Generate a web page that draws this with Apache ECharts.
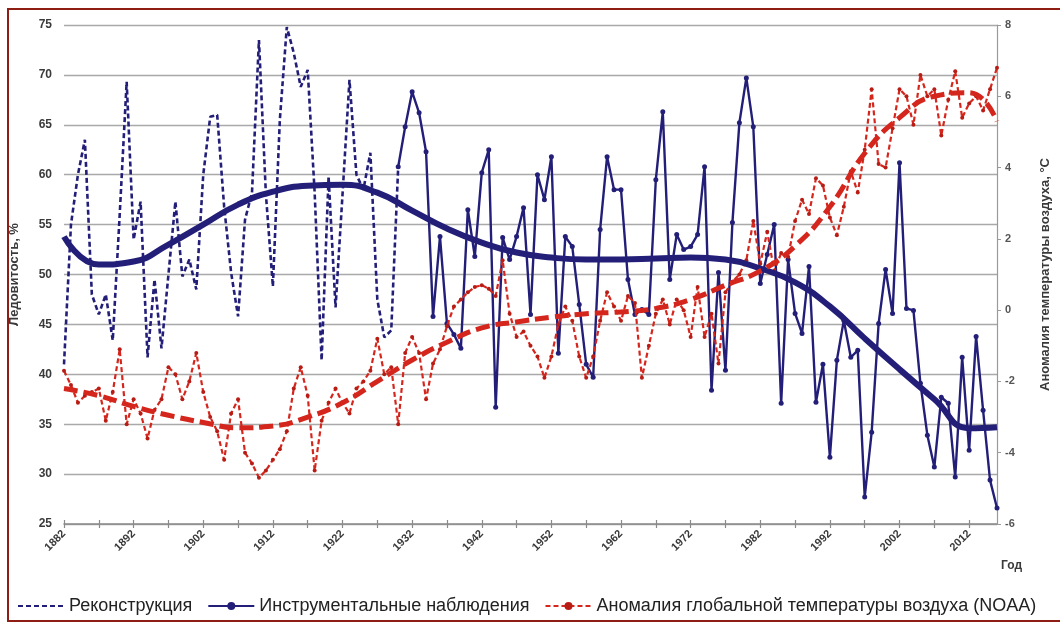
<!DOCTYPE html>
<html>
<head>
<meta charset="utf-8">
<script src="https://cdn.jsdelivr.net/npm/echarts@6/dist/echarts.min.js"></script>
<style>
  html, body { margin: 0; padding: 0; background: #ffffff; }
  #chart { width: 1060px; height: 622px; }
</style>
</head>
<body>
<div id="chart"></div>
<script>
// Years on the category axis
const firstYear = 1882;
const lastYear = 2016;
const years = [];
for (let y = firstYear; y <= lastYear; y++) years.push(String(y));

// Sea-ice extent, %, reconstructed (1882–1930)
const reconstructionStart = 1882;
const reconstruction = [
  41, 55, 60, 63.5, 48, 46, 48, 43.4, 56, 69.3,
  53.5, 57.3, 41.7, 49.5, 42.6, 50, 57.3, 49.8, 51.5, 48.5,
  60, 65.8, 66, 56.8, 50.2, 45.8, 55.5, 58.2, 73.5, 58,
  48.8, 65.5, 74.8, 72.2, 68.8, 70.5, 58.2, 41.4, 59.8, 46.7,
  58, 69.5, 60, 58.5, 62.2, 47.5, 43.7, 44.4, 60.8
];

// Sea-ice extent, %, instrumental observations (1930–2016)
const instrumentalStart = 1930;
const instrumental = [
  60.8, 64.8, 68.3, 66.2, 62.3, 45.8, 53.8, 45.1, 44, 42.6,
  56.5, 51.8, 60.2, 62.5, 36.7, 53.7, 51.5, 53.8, 56.7, 46,
  60, 57.5, 61.8, 42.1, 53.8, 52.8, 47, 41, 39.7, 54.5,
  61.8, 58.5, 58.5, 49.5, 46, 46.5, 46, 59.5, 66.3, 49.5,
  54, 52.5, 52.8, 54, 60.8, 38.4, 50.2, 40.4, 55.2, 65.2,
  69.7, 64.8, 49.1, 52, 55, 37.1, 51.5, 46.1, 44.1, 50.8,
  37.2, 41, 31.7, 41.4, 45.4, 41.7, 42.4, 27.7, 34.2, 45.1,
  50.5, 46.1, 61.2, 46.6, 46.4, 39.1, 33.9, 30.7, 37.7, 37.1,
  29.7, 41.7, 32.4, 43.8, 36.4, 29.4, 26.6
];

// Global air temperature anomaly (NOAA), right axis (1882–2016)
const temperatureStart = 1882;
const temperature = [
  -1.7, -2.1, -2.6, -2.4, -2.3, -2.2, -3.1, -2.3, -1.1, -3.2,
  -2.5, -2.9, -3.6, -2.8, -2.5, -1.6, -1.8, -2.5, -2.0, -1.2,
  -2.3, -3.0, -3.4, -4.2, -2.9, -2.5, -4.0, -4.3, -4.7, -4.5,
  -4.2, -3.9, -3.4, -2.2, -1.6, -2.4, -4.5, -3.1, -2.6, -2.2,
  -2.6, -2.9, -2.2, -2.0, -1.7, -0.8, -1.8, -1.6, -3.2, -1.2,
  -0.75, -1.2, -2.5, -1.5, -1.1, -0.45, 0.1, 0.3, 0.5, 0.65,
  0.7, 0.6, 0.4, 1.4, -0.1, -0.75, -0.6, -1.0, -1.3, -1.9,
  -1.3, -0.4, 0.1, -0.3, -1.3, -1.9, -1.3, -0.3, 0.5, 0.1,
  -0.3, 0.4, 0.2, -1.9, -1.0, -0.1, 0.3, -0.4, 0.3, 0.0,
  -0.75, 0.65, -0.75, -0.1, -1.5, 0.5, 0.8, 1.0, 1.4, 2.5,
  1.3, 2.2, 1.1, 1.6, 1.5, 2.5, 3.1, 2.7, 3.7, 3.5,
  2.6, 2.1, 2.9, 3.9, 3.3, 4.5, 6.2, 4.1, 4.0, 5.1,
  6.2, 6.0, 5.2, 6.6, 6.0, 6.2, 4.9, 5.9, 6.7, 5.4,
  5.8, 6.0, 5.6, 6.2, 6.8
];

// Smoothed trend of sea-ice extent, %
const iceTrendYears = [1882, 1887, 1892, 1897, 1902, 1907, 1912, 1917, 1922, 1927, 1932, 1937, 1942, 1947,
  1952, 1957, 1962, 1967, 1972, 1977, 1982, 1987, 1992, 1997, 2002, 2007, 2012, 2016];
const iceTrend = [53.8, 51.0, 51.3, 53.0, 55.0, 57.0, 58.3, 58.9, 59.0, 58.2, 56.4, 54.6, 53.2, 52.2,
  51.7, 51.5, 51.5, 51.6, 51.7, 51.5, 50.6, 49.2, 46.8, 43.6, 40.5, 37.5, 34.6, 34.7];

// Smoothed trend of the temperature anomaly
const tempTrendYears = [1882, 1887, 1892, 1897, 1902, 1907, 1912, 1917, 1922, 1927, 1932, 1937, 1942, 1947,
  1952, 1957, 1962, 1967, 1972, 1977, 1982, 1987, 1992, 1997, 2002, 2007, 2012, 2016];
const tempTrend = [-2.2, -2.4, -2.7, -2.95, -3.15, -3.3, -3.25, -3.0, -2.6, -2.0, -1.4, -0.9, -0.5, -0.33,
  -0.2, -0.1, -0.05, 0.05, 0.3, 0.7, 1.1, 1.8, 2.9, 4.4, 5.4, 6.0, 6.1, 5.3];

const NAVY = '#231f78';
const RED = '#d4261c';
const RED_DARK = '#b81d15';
const TEXT = '#3a3a3a';
const FONT = '"Liberation Sans", Arial, sans-serif';

function seq(start, values) {
  return values.map((v, i) => [start + i - firstYear, v]);
}
function pick(yrs, values) {
  return yrs.map((y, i) => [y - firstYear, values[i]]);
}

const chart = echarts.init(document.getElementById('chart'), null, { renderer: 'canvas' });

chart.setOption({
  animation: false,
  backgroundColor: '#ffffff',
  textStyle: { fontFamily: FONT },
  grid: { left: 64, right: 63, top: 25, bottom: 98, containLabel: false },
  graphic: [{
    type: 'rect',
    shape: { x: 8, y: 9, width: 1060, height: 612 },
    style: { fill: 'none', stroke: '#8e1d14', lineWidth: 2 },
    silent: true
  }],
  legend: {
    data: [
      { name: 'Реконструкция', itemStyle: { opacity: 0 } },
      { name: 'Инструментальные наблюдения' },
      { name: 'Аномалия глобальной температуры воздуха (NOAA)' }
    ],
    left: 12,
    bottom: 2,
    itemWidth: 46,
    itemHeight: 10,
    itemGap: 15,
    textStyle: { fontSize: 18, color: '#222', fontFamily: FONT }
  },
  xAxis: [{
    type: 'category',
    data: years,
    boundaryGap: false,
    axisLine: { show: true, onZero: false, lineStyle: { color: '#8a8a8a', width: 1.5 } },
    axisTick: { show: true, interval: 4, length: 4, lineStyle: { color: '#8a8a8a', width: 1.2 } },
    axisLabel: { interval: 9, rotate: 45, fontSize: 11, fontWeight: 'bold', color: TEXT, margin: 8 },
    splitLine: { show: false },
    name: 'Год',
    nameLocation: 'end',
    nameGap: 4,
    nameTextStyle: { fontSize: 12, fontWeight: 'bold', color: TEXT, verticalAlign: 'top', padding: [36, 0, 0, 0] }
  }, {
    type: 'category',
    data: years,
    boundaryGap: false,
    position: 'bottom',
    axisLine: { show: false, onZero: false },
    axisTick: { show: true, inside: true, interval: 4, length: 4, lineStyle: { color: '#8a8a8a', width: 1.2 } },
    axisLabel: { show: false },
    splitLine: { show: false }
  }],
  yAxis: [{
    type: 'value',
    min: 25, max: 75, interval: 5,
    position: 'left',
    name: 'Ледовитость, %',
    nameLocation: 'middle',
    nameGap: 43,
    nameRotate: 90,
    nameTextStyle: { fontSize: 13, fontWeight: 'bold', color: TEXT },
    axisLine: { show: false },
    axisTick: { show: false },
    axisLabel: { fontSize: 12, fontWeight: 'bold', color: TEXT, margin: 12 },
    splitLine: { show: true, lineStyle: { color: '#a9a9a9', width: 1.3 } }
  }, {
    type: 'value',
    min: -6, max: 8, interval: 2,
    position: 'right',
    name: 'Аномалия температуры воздуха, °С',
    nameLocation: 'middle',
    nameGap: 42,
    nameRotate: 90,
    nameTextStyle: { fontSize: 13, fontWeight: 'bold', color: TEXT },
    axisLine: { show: true, onZero: false, lineStyle: { color: '#9a9a9a', width: 1.2 } },
    axisTick: { show: true, length: 4, lineStyle: { color: '#9a9a9a' } },
    axisLabel: { fontSize: 11, fontWeight: 'bold', color: '#555', margin: 8 },
    splitLine: { show: false }
  }],
  series: [
    {
      name: 'Реконструкция',
      type: 'line',
      yAxisIndex: 0,
      data: seq(reconstructionStart, reconstruction),
      showSymbol: false,
      symbol: 'none',
      lineStyle: { color: NAVY, width: 2.6, type: [5, 3] },
      itemStyle: { color: NAVY },
      z: 3
    },
    {
      name: 'Инструментальные наблюдения',
      type: 'line',
      yAxisIndex: 0,
      data: seq(instrumentalStart, instrumental),
      symbol: 'circle',
      symbolSize: 5,
      showAllSymbol: true,
      lineStyle: { color: NAVY, width: 2.4 },
      itemStyle: { color: NAVY },
      z: 3
    },
    {
      name: 'Аномалия глобальной температуры воздуха (NOAA)',
      type: 'line',
      yAxisIndex: 1,
      data: seq(temperatureStart, temperature),
      symbol: 'circle',
      symbolSize: 4,
      showAllSymbol: true,
      lineStyle: { color: RED, width: 2.2, type: [5, 3] },
      itemStyle: { color: RED_DARK },
      z: 4
    },
    {
      name: 'Тренд ледовитости',
      type: 'line',
      yAxisIndex: 0,
      data: pick(iceTrendYears, iceTrend),
      smooth: 0.5,
      symbol: 'none',
      lineStyle: { color: NAVY, width: 6 },
      z: 5
    },
    {
      name: 'Тренд температуры',
      type: 'line',
      yAxisIndex: 1,
      data: pick(tempTrendYears, tempTrend),
      smooth: 0.5,
      symbol: 'none',
      lineStyle: { color: RED, width: 5, type: [14, 6] },
      z: 6
    }
  ]
});
</script>
</body>
</html>
